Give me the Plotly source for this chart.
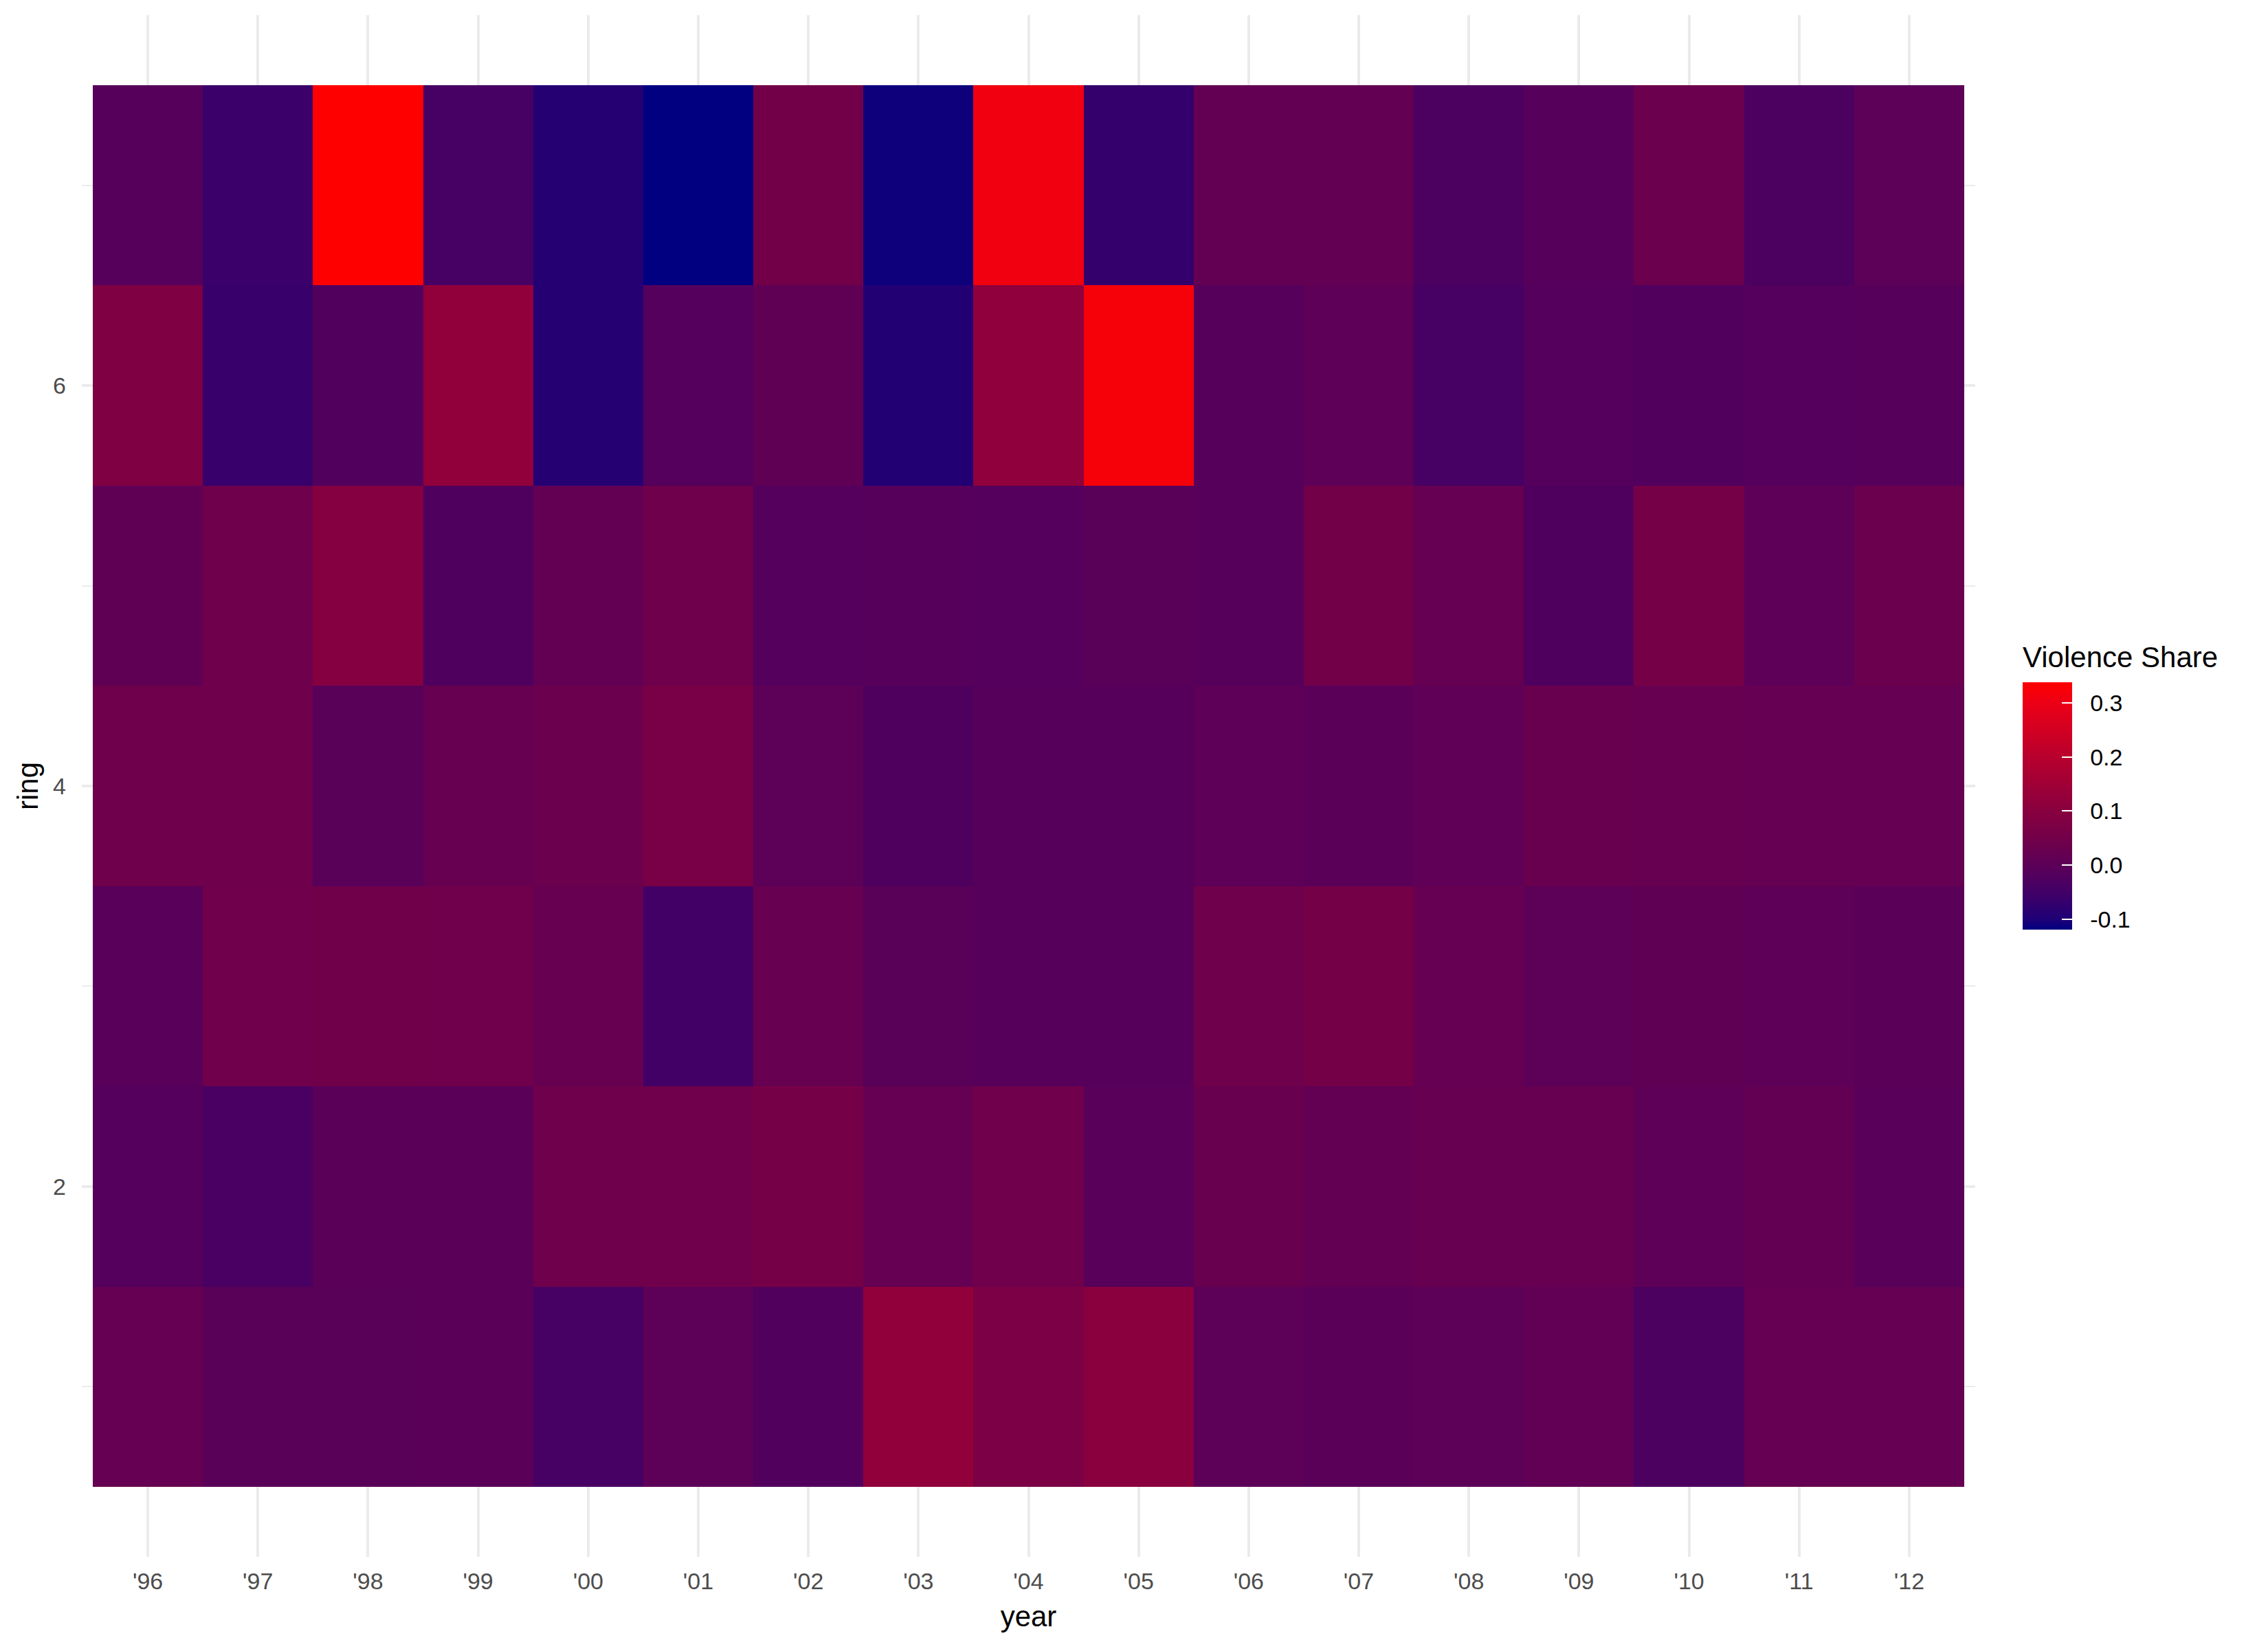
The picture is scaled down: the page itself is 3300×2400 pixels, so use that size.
import plotly.graph_objects as go

# ---------------- data ----------------
years = ["'96", "'97", "'98", "'99", "'00", "'01", "'02", "'03", "'04",
         "'05", "'06", "'07", "'08", "'09", "'10", "'11", "'12"]
rings = [1, 2, 3, 4, 5, 6, 7]

ring1 = [0.020, -0.005, -0.005, -0.003, -0.040, 0.000, -0.020, 0.120, 0.070,
         0.105, 0.003, -0.003, 0.002, 0.012, -0.030, 0.020, 0.020]
ring2 = [-0.015, -0.035, -0.002, -0.004, 0.040, 0.045, 0.060, 0.020, 0.045,
         -0.008, 0.030, 0.015, 0.025, 0.025, 0.005, 0.015, -0.008]
ring3 = [-0.008, 0.045, 0.048, 0.045, 0.025, -0.050, 0.025, -0.005, -0.010,
         -0.010, 0.040, 0.055, 0.020, 0.000, 0.010, 0.005, -0.003]
ring4 = [0.040, 0.040, -0.005, 0.025, 0.035, 0.065, 0.000, -0.025, -0.010,
         -0.010, 0.005, -0.003, 0.008, 0.030, 0.025, 0.020, 0.020]
ring5 = [0.010, 0.040, 0.090, -0.025, 0.015, 0.040, -0.015, -0.012, -0.015,
         -0.005, -0.010, 0.050, 0.020, -0.025, 0.060, 0.005, 0.035]
ring6 = [0.080, -0.065, -0.020, 0.120, -0.090, -0.015, 0.010, -0.095, 0.115,
         0.320, -0.010, 0.005, -0.040, -0.015, -0.020, -0.015, -0.010]
ring7 = [-0.010, -0.060, 0.338, -0.040, -0.090, -0.119, 0.050, -0.110, 0.310,
         -0.070, 0.015, 0.015, -0.030, -0.010, 0.035, -0.030, 0.000]

z_min, z_max = -0.119, 0.338
cbar_ticks = [-0.1, 0.0, 0.1, 0.2, 0.3]
cbar_labels = ["-0.1", "0.0", "0.1", "0.2", "0.3"]
y_ticks = [2, 4, 6]
y_minor = [1, 3, 5, 7]

z = [ring1, ring2, ring3, ring4, ring5, ring6, ring7]

# colour ramp (navy -> purple -> red), colours sampled from the reference bar
ramp_values = [-0.119, -0.1, -0.05, 0.0, 0.05, 0.1, 0.15, 0.2, 0.25, 0.3, 0.338]
ramp_colors = ["#000080", "#1E0076", "#420066", "#5C0058", "#720049", "#88003F",
               "#A00036", "#B8002E", "#D20022", "#EC0016", "#FF0000"]
colorscale = [[(v - z_min) / (z_max - z_min), c] for v, c in zip(ramp_values, ramp_colors)]
colorscale[0][0] = 0.0
colorscale[-1][0] = 1.0

FONT = "Liberation Sans, Arial, Helvetica, sans-serif"
W, H = 3300, 2400

# plot area in pixels
left, right, top, bottom = 119, 2874, 22, 2266
pw, ph = right - left, bottom - top

fig = go.Figure()
fig.add_trace(go.Heatmap(
    x=years, y=rings, z=z,
    zmin=z_min, zmax=z_max,
    colorscale=colorscale,
    colorbar=dict(
        xref="container", yref="container",
        x=2943 / W, xanchor="left",
        y=1 - 1447 / H, yanchor="bottom",
        len=360, lenmode="pixels",
        thickness=72, thicknessmode="pixels",
        outlinewidth=0, xpad=0, ypad=0,
        tickmode="array", tickvals=cbar_ticks,
        ticktext=["\u00a0\u00a0" + t for t in cbar_labels],
        ticks="inside", ticklen=15, tickcolor="white", tickwidth=2,
        tickfont=dict(family=FONT, size=34, color="black"),
    ),
))

fig.add_annotation(
    text="Violence Share", showarrow=False,
    xref="paper", yref="paper",
    x=(2941 - left) / pw, xanchor="left",
    y=(bottom - 956) / ph, yanchor="middle",
    font=dict(family=FONT, size=42, color="black"),
)

fig.update_layout(
    width=W, height=H,
    margin=dict(l=left, r=W - right, t=top, b=H - bottom, autoexpand=False),
    paper_bgcolor="white", plot_bgcolor="white",
    font=dict(family=FONT, color="black"),
    xaxis=dict(
        type="category", range=[-0.6, len(years) - 0.4],
        showgrid=True, gridcolor="#EBEBEB", gridwidth=4,
        zeroline=False, showline=False, ticks="",
        ticklabelstandoff=12,
        tickfont=dict(family=FONT, size=34, color="#4D4D4D"),
        title=dict(text="year", standoff=18,
                   font=dict(family=FONT, size=42, color="black")),
        automargin=False,
    ),
    yaxis=dict(
        range=[0.15, 7.85],
        tickmode="array", tickvals=y_ticks,
        showgrid=True, gridcolor="#EBEBEB", gridwidth=4,
        minor=dict(tickvals=y_minor, showgrid=True,
                   gridcolor="#EBEBEB", gridwidth=2),
        zeroline=False, showline=False, ticks="",
        ticklabelstandoff=22,
        tickfont=dict(family=FONT, size=34, color="#4D4D4D"),
        title=dict(text="ring", standoff=8,
                   font=dict(family=FONT, size=42, color="black")),
        automargin=False,
    ),
)

fig.write_html("out.html", config={"displayModeBar": False},
               post_script="document.body.style.margin='0';")
